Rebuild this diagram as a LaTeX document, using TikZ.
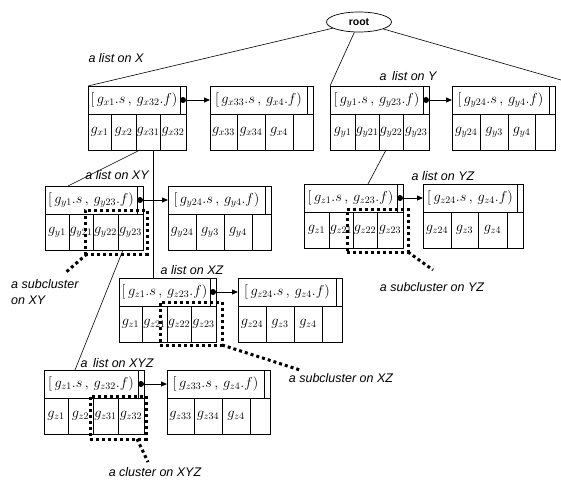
\documentclass[tikz,border=0pt]{standalone}
\usepackage{fontspec}
\setsansfont{Liberation Sans}
\usetikzlibrary{arrows.meta,calc,shapes.geometric}
\tikzset{
  hdr/.style={draw, line width=0.7pt, anchor=north west, inner sep=0pt, outer sep=0pt,
    minimum height=28pt, font=\fontsize{14}{16}\selectfont},
  strip/.style={draw, line width=0.7pt, anchor=north west, inner sep=0pt, outer sep=0pt,
    minimum width=6pt, minimum height=28pt},
  cell/.style={draw, line width=0.7pt, anchor=north west, inner sep=0pt, outer sep=0pt,
    minimum height=36pt, font=\fontsize{14}{16}\selectfont},
  ptdot/.style={circle, fill=black, inner sep=0pt, minimum size=6pt},
  ptr/.style={line width=0.8pt, -{Triangle[length=6pt,width=5pt]}},
  link/.style={line width=0.6pt},
  lab/.style={font=\sffamily\itshape\fontsize{12.5}{16}\selectfont, inner sep=0pt},
  dotbox/.style={draw, line width=3pt, dash pattern=on 3pt off 3pt, anchor=north west,
    inner sep=0pt, outer sep=0pt},
  tail/.style={line width=3pt, dash pattern=on 3pt off 3pt},
}
\newcommand{\lblock}[6]{%
  \node[hdr, minimum width=#4pt-6pt] (#1h) at (#2,#3) {#5};
  \node[strip] (#1p) at (#1h.north east) {};
  \foreach \cx/\cw/\ct [count=\ci] in {#6} {
    \node[cell, minimum width=\cw pt] (#1c\ci) at (\cx,#3+28) {$\ct$};
  }%
}
\newcommand{\lptr}[2]{%
  \node[ptdot] (#1d) at (#1p.center) {};
  \draw[ptr] (#1d) -- (#2h.west);
}
\begin{document}
\begin{tikzpicture}[x=1pt,y=-1pt]
\useasboundingbox (0,0) rectangle (561,482);

% root
\node[ellipse, draw, line width=0.7pt, minimum width=65pt, minimum height=20pt, inner sep=0pt,
  font=\sffamily\bfseries\fontsize{10.5}{12}\selectfont] (root) at (359,22) {root};
\coordinate (rt) at (561,80);

% first row
\lblock{XA}{88}{86}{98}{$[\,g_{x1}.s\,,\,g_{x32}.f)$}{88/23/g_{x1},111/25/g_{x2},136/24/g_{x31},160/26/g_{x32}}
\lblock{XB}{210}{86}{103}{$[\,g_{x33}.s\,,\,g_{x4}.f)$}{210/27/g_{x33},237/28/g_{x34},265/28/g_{x4},293/20/{}}
\lblock{YA}{330}{86}{99}{$[\,g_{y1}.s\,,\,g_{y23}.f)$}{330/25/g_{y1},355/24/g_{y21},379/24/g_{y22},403/26/g_{y23}}
\lblock{YB}{452}{86}{103}{$[\,g_{y24}.s\,,\,g_{y4}.f)$}{452/28/g_{y24},480/28/g_{y3},508/27/g_{y4},535/20/{}}

% XY
\lblock{XYA}{45}{186}{98}{$[\,g_{y1}.s\,,\,g_{y23}.f)$}{45/24/g_{y1},69/24/g_{y21},93/25/g_{y22},118/25/g_{y23}}
\lblock{XYB}{168}{186}{103}{$[\,g_{y24}.s\,,\,g_{y4}.f)$}{168/28/g_{y24},196/28/g_{y3},224/28/g_{y4},252/19/{}}

% YZ
\lblock{YZA}{304}{184}{99}{$[\,g_{z1}.s\,,\,g_{z23}.f)$}{304/25/g_{z1},329/24/g_{z21},353/24/g_{z22},377/26/g_{z23}}
\lblock{YZB}{423}{184}{100}{$[\,g_{z24}.s\,,\,g_{z4}.f)$}{423/28/g_{z24},451/27/g_{z3},478/29/g_{z4},507/16/{}}

% XZ
\lblock{XZA}{119}{278}{97}{$[\,g_{z1}.s\,,\,g_{z23}.f)$}{119/23/g_{z1},142/25/g_{z21},167/24/g_{z22},191/25/g_{z23}}
\lblock{XZB}{238}{278}{104}{$[\,g_{z24}.s\,,\,g_{z4}.f)$}{238/28/g_{z24},266/28/g_{z3},294/28/g_{z4},322/20/{}}

% XYZ
\lblock{XYZA}{44}{370}{100}{$[\,g_{z1}.s\,,\,g_{z32}.f)$}{44/24/g_{z1},68/25/g_{z2},93/25/g_{z31},118/26/g_{z32}}
\lblock{XYZB}{167}{370}{103}{$[\,g_{z33}.s\,,\,g_{z4}.f)$}{167/27/g_{z33},194/28/g_{z34},222/28/g_{z4},250/20/{}}

% pointers
\lptr{XA}{XB}
\lptr{YA}{YB}
\lptr{XYA}{XYB}
\lptr{YZA}{YZB}
\lptr{XZA}{XZB}
\lptr{XYZA}{XYZB}

% tree links
\draw[link] (root) -- (XAh.north west);
\draw[link] (root) -- (YAh.north west);
\draw[link] (root) -- (rt);
\draw[link] ([xshift=4pt]XAc3.south west) -- ([xshift=23pt]XYAh.north west);
\draw[link] ([xshift=17pt]XAc3.south west) -- ([xshift=34pt]XZAh.north west);
\draw[link] ([xshift=7pt]YAc3.south west) -- ([xshift=64pt]YZAh.north west);
\draw[link] ([xshift=5pt]XYAc4.south west) -- ([xshift=31pt]XYZAh.north west);

% list labels
\node[lab] (lX) at (116,58) {a list on X};
\node[lab] (lY) at (408,76) {a\, list on Y};
\node[lab] (lXY) at (117,175) {a list on XY};
\node[lab] (lYZ) at (443,176) {a list on YZ};
\node[lab] (lXZ) at (192,270) {a list on XZ};
\node[lab] (lXYZ) at (117,363) {a\, list on XYZ};

% subclusters
\node[dotbox, minimum width=62pt, minimum height=44pt] (sXY) at (85,210) {};
\coordinate (tXY) at (65,273);
\draw[tail] ([xshift=2pt]sXY.south west) -- (tXY);
\node[lab, align=left, anchor=north west] (cXY) at (11,279) {a subcluster\\on XY};

\node[dotbox, minimum width=61pt, minimum height=43pt] (sYZ) at (347,209) {};
\coordinate (tYZ) at (433,270);
\draw[tail] (sYZ.south east) -- (tYZ);
\node[lab] (cYZ) at (432,287) {a subcluster on YZ};

\node[dotbox, minimum width=62pt, minimum height=43pt] (sXZ) at (160,302) {};
\coordinate (tXZ) at (300,370);
\draw[tail] (sXZ.south east) -- (tXZ);
\node[lab] (cXZ) at (341,378) {a subcluster on XZ};

\node[dotbox, minimum width=56pt, minimum height=43pt] (sXYZ) at (90,396) {};
\coordinate (tXYZ) at (148,462);
\draw[tail] ([xshift=-9pt]sXYZ.south east) -- (tXYZ);
\node[lab] (cXYZ) at (155,472) {a cluster on XYZ};
\end{tikzpicture}
\end{document}
